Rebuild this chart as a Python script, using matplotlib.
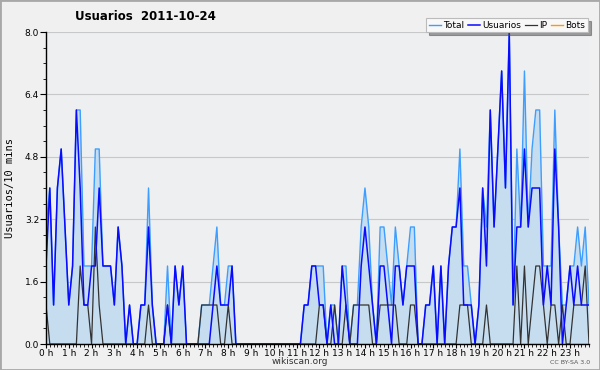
import matplotlib
matplotlib.use("Agg")
import matplotlib.pyplot as plt
import numpy as np
from matplotlib.patches import Rectangle
from matplotlib.ticker import MultipleLocator

# values per 10-minute slot, 2011-10-24 (144 slots, 6 per hour)
total = [
    3, 4, 1, 4, 5, 3, 1, 2, 6, 6, 2, 2, 2, 5, 5, 2, 2, 2, 1, 3, 2, 0, 1, 0,
    0, 1, 1, 4, 1, 0, 0, 0, 2, 0, 2, 1, 2, 0, 0, 0, 0, 1, 1, 1, 2, 3, 1, 1,
    2, 2, 0, 0, 0, 0, 0, 0, 0, 0, 0, 0, 0, 0, 0, 0, 0, 0, 0, 0, 1, 1, 2, 2,
    2, 2, 0, 1, 1, 0, 2, 2, 0, 1, 1, 3, 4, 3, 1, 0, 3, 3, 2, 1, 3, 2, 1, 2,
    3, 3, 0, 0, 1, 1, 2, 0, 2, 0, 2, 3, 3, 5, 2, 2, 1, 0, 1, 4, 3, 6, 3, 5,
    7, 4, 8, 1, 5, 3, 7, 3, 5, 6, 6, 2, 2, 2, 6, 3, 1, 1, 2, 2, 3, 2, 3, 1,
]
usuarios = [
    2, 4, 1, 4, 5, 3, 1, 2, 6, 4, 1, 1, 2, 2, 4, 2, 2, 2, 1, 3, 2, 0, 1, 0,
    0, 1, 1, 3, 1, 0, 0, 0, 1, 0, 2, 1, 2, 0, 0, 0, 0, 0, 0, 0, 1, 2, 1, 1,
    1, 2, 0, 0, 0, 0, 0, 0, 0, 0, 0, 0, 0, 0, 0, 0, 0, 0, 0, 0, 1, 1, 2, 2,
    1, 1, 0, 1, 0, 0, 2, 1, 0, 0, 0, 2, 3, 2, 1, 0, 2, 2, 1, 0, 2, 2, 1, 2,
    2, 2, 0, 0, 1, 1, 2, 0, 2, 0, 2, 3, 3, 4, 1, 1, 1, 0, 1, 4, 2, 6, 3, 5,
    7, 4, 8, 1, 3, 3, 5, 3, 4, 4, 4, 1, 2, 1, 5, 3, 0, 1, 2, 1, 2, 1, 1, 1,
]
ip = [
    1, 0, 0, 0, 0, 0, 0, 0, 0, 2, 1, 1, 0, 3, 1, 0, 0, 0, 0, 0, 0, 0, 0, 0,
    0, 0, 0, 1, 0, 0, 0, 0, 1, 0, 0, 0, 0, 0, 0, 0, 0, 1, 1, 1, 1, 1, 0, 0,
    1, 0, 0, 0, 0, 0, 0, 0, 0, 0, 0, 0, 0, 0, 0, 0, 0, 0, 0, 0, 0, 0, 0, 0,
    1, 1, 0, 0, 1, 0, 0, 1, 0, 1, 1, 1, 1, 1, 0, 0, 1, 1, 1, 1, 1, 0, 0, 0,
    1, 1, 0, 0, 0, 0, 0, 0, 0, 0, 0, 0, 0, 1, 1, 1, 0, 0, 0, 0, 1, 0, 0, 0,
    0, 0, 0, 0, 2, 0, 2, 0, 1, 2, 2, 1, 0, 1, 1, 0, 1, 0, 0, 1, 1, 1, 2, 0,
]
bots = [
    0, 0, 0, 0, 0, 0, 0, 0, 0, 0, 0, 0, 0, 0, 0, 0, 0, 0, 0, 0, 0, 0, 0, 0,
    0, 0, 0, 0, 0, 0, 0, 0, 0, 0, 0, 0, 0, 0, 0, 0, 0, 0, 0, 0, 0, 0, 0, 0,
    0, 0, 0, 0, 0, 0, 0, 0, 0, 0, 0, 0, 0, 0, 0, 0, 0, 0, 0, 0, 0, 0, 0, 0,
    0, 0, 0, 0, 0, 0, 0, 0, 0, 0, 0, 0, 0, 0, 0, 0, 0, 0, 0, 0, 0, 0, 0, 0,
    0, 0, 0, 0, 0, 0, 0, 0, 0, 0, 0, 0, 0, 0, 0, 0, 0, 0, 0, 0, 0, 0, 0, 0,
    0, 0, 0, 0, 0, 0, 0, 0, 0, 0, 0, 0, 0, 0, 0, 0, 0, 0, 0, 0, 0, 0, 0, 0,
]
hours = list(range(24))
hour_labels = [f"{h} h" for h in hours]
y_ticks = [0.0, 1.6, 3.2, 4.8, 6.4, 8.0]

x = np.arange(len(total)) / 6.0

fig = plt.figure(figsize=(6, 3.7), dpi=100, facecolor="#f0f0f0")
ax = fig.add_axes([46 / 600, 1 - 344 / 370, 543 / 600, 312 / 370])
ax.set_facecolor("#eeeff1")

ax.fill_between(x, total, 0, color="#c6ddf0", lw=0, zorder=1)
ax.plot(x, bots, color="#ff9900", lw=1, label="Bots", zorder=2)
ax.plot(x, total, color="#3d9eff", lw=1, label="Total", zorder=3)
ax.plot(x, ip, color="#333333", lw=0.9, label="IP", zorder=4)
ax.plot(x, usuarios, color="#0a0aff", lw=1.1, label="Usuarios", zorder=5)

ax.set_xlim(0, x[-1])
ax.set_ylim(0, 8.0)
ax.set_xticks(hours)
ax.set_xticklabels(hour_labels)
ax.xaxis.set_minor_locator(MultipleLocator(1 / 6))
ax.set_yticks(y_ticks)
ax.set_yticklabels([f"{v:.1f}" for v in y_ticks])
ax.yaxis.set_minor_locator(MultipleLocator(0.4))
ax.tick_params(axis="y", which="major", labelsize=6.5, length=4, width=0.8,
               pad=1, colors="black")
ax.tick_params(axis="x", which="major", labelsize=6.5, length=3, width=0.8,
               pad=0.5, colors="black")
ax.tick_params(axis="both", which="minor", length=2.5, width=0.6)
ax.grid(axis="y", color="#c8c8c8", lw=0.8, zorder=0)
ax.set_axisbelow(True)
for s in ["top", "right"]:
    ax.spines[s].set_visible(False)
for s in ["left", "bottom"]:
    ax.spines[s].set_linewidth(1)
    ax.spines[s].set_zorder(6)

fig.text(10 / 600, 1 - 188 / 370, "Usuarios/10 mins", rotation=90,
         family="DejaVu Sans Mono", fontsize=7.5, ha="center", va="center")
fig.text(75 / 600, 1 - 17 / 370, "Usuarios  2011-10-24", fontweight="bold",
         fontsize=8.5, ha="left", va="center")
fig.text(300 / 600, 1 - 362 / 370, "wikiscan.org", fontsize=6.5,
         ha="center", va="center", color="#333333")
fig.text(590 / 600, 1 - 362 / 370, "CC BY-SA 3.0", fontsize=4.5,
         ha="right", va="center", color="#555555")

h, l = ax.get_legend_handles_labels()
order = ["Total", "Usuarios", "IP", "Bots"]
hd = dict(zip(l, h))
leg = fig.legend([hd[k] for k in order], order, loc="upper right",
                 bbox_to_anchor=(588 / 600, 1 - 18 / 370), ncol=4,
                 fontsize=6.5, frameon=True, shadow=True, fancybox=False,
                 handlelength=1.3, handletextpad=0.3, columnspacing=0.4,
                 borderpad=0.3, borderaxespad=0)
leg.get_frame().set_edgecolor("#bbbbbb")
leg.get_frame().set_facecolor("#f8f8f8")
leg.get_frame().set_linewidth(0.8)

fig.patches.append(Rectangle((0, 0), 1, 1, transform=fig.transFigure,
                             fill=False, edgecolor="#a8a8a8", lw=2))

fig.savefig("out.png", dpi=100, facecolor=fig.get_facecolor())
